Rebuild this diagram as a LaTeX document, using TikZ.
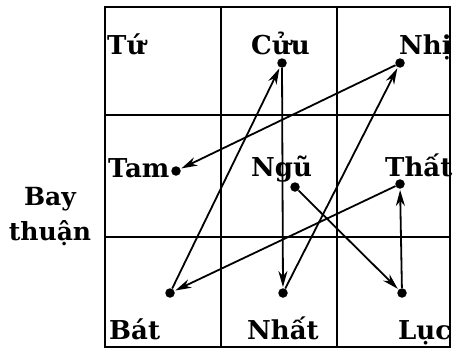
\documentclass[tikz,border=0pt]{standalone}
\usepackage{fontspec}
\setmainfont{DejaVu Serif}
\usetikzlibrary{arrows.meta}
\begin{document}
\begin{tikzpicture}[x=1pt,y=-1pt,
  grid/.style={line width=1.3pt,black},
  lbl/.style={anchor=base west,inner sep=0pt,font=\bfseries\fontsize{26}{30}\selectfont},
  side/.style={anchor=base,inner sep=0pt,font=\bfseries\fontsize{25}{28}\selectfont},
  dot/.style={circle,fill=black,inner sep=0pt,minimum size=9.5pt},
  flow/.style={line width=1.8pt,-{Stealth[length=16pt,width=9pt,inset=5pt]},shorten >=1pt}]
\useasboundingbox (0,0) rectangle (453,348);
% grid
\draw[grid] (105,7) rectangle (450,347);
\draw[grid] (105,115) -- (450,115);
\draw[grid] (105,237) -- (450,237);
\draw[grid] (221,7) -- (221,347);
\draw[grid] (337,7) -- (337,347);
% labels
\node[lbl] (tu) at (107,54) {Tứ};
\node[lbl] (cuu) at (251,54) {Cửu};
\node[lbl] (nhi) at (399,54) {Nhị};
\node[lbl] (tam) at (108,177) {Tam};
\node[lbl] (ngu) at (251,176) {Ngũ};
\node[lbl] (that) at (385,176) {Thất};
\node[lbl] (bat) at (109,339) {Bát};
\node[lbl] (nhat) at (247,339) {Nhất};
\node[lbl] (luc) at (398,339) {Lục};
\node[side] (bay) at (50,205) {Bay};
\node[side] (thuan) at (50,240) {thuận};
% dots
\node[dot] (d9) at (282,63) {};
\node[dot] (d2) at (400,63) {};
\node[dot] (d3) at (176,171) {};
\node[dot] (d5) at (295,187) {};
\node[dot] (d7) at (400,184) {};
\node[dot] (d8) at (170,293) {};
\node[dot] (d1) at (283,293) {};
\node[dot] (d6) at (402,293) {};
% connectors
\draw[flow] (d8) -- (d9);
\draw[flow] (d9) -- (d1);
\draw[flow] (d1) -- (d2);
\draw[flow] (d2) -- (d3);
\draw[flow] (d5) -- (d6);
\draw[flow] (d6) -- (d7);
\draw[flow] (d7) -- (d8);
\end{tikzpicture}
\end{document}
